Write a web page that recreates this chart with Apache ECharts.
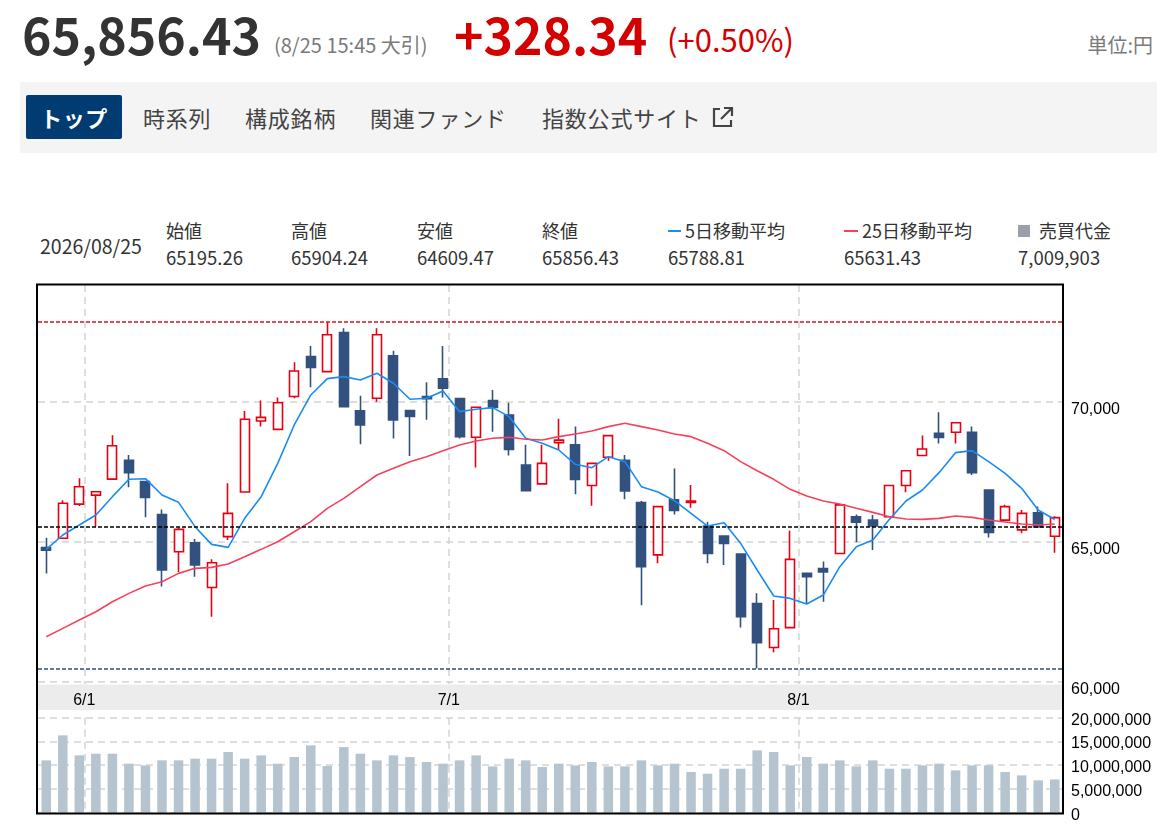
<!DOCTYPE html>
<html lang="ja">
<head>
<meta charset="utf-8">
<script src="https://cdn.jsdelivr.net/npm/echarts@6/dist/echarts.min.js"></script>
<style>
  body { margin: 0; width: 1174px; height: 840px; overflow: hidden; background: #fff; position: relative;
         font-family: "Noto Sans CJK JP", sans-serif; color: #333; }
  .t { position: absolute; white-space: nowrap; line-height: 1; }
  .tabbar { position: absolute; left: 20px; top: 82px; width: 1137px; height: 71px; background: #f4f4f4; }
  .tab { position: absolute; top: 95px; height: 44px; line-height: 44px; font-size: 22px; color: #444; letter-spacing: 0.8px; white-space: nowrap; }
  .tab.on { left: 26px; width: 96px; background: #003b71; color: #fff; font-weight: bold; text-align: center; border-radius: 2px; letter-spacing: 0.5px; }
  .lbl { position: absolute; top: 221px; font-size: 18px; line-height: 1; color: #333; white-space: nowrap; }
  .val { position: absolute; top: 248px; font-size: 18.5px; line-height: 1; color: #333; white-space: nowrap; }
  #main { position: absolute; left: 0; top: 280px; width: 1174px; height: 560px; }
</style>
</head>
<body>
<div class="t" style="left:22px;top:8px;font-size:50px;font-weight:bold;color:#333;">65,856.43</div>
<div class="t" style="left:274px;top:35px;font-size:20px;color:#7a7a7a;">(8/25 15:45 大引)</div>
<div class="t" style="left:454px;top:8px;font-size:50px;font-weight:bold;color:#d40000;">+328.34</div>
<div class="t" style="left:667px;top:23px;font-size:31px;color:#d40000;">(+0.50%)</div>
<div class="t" style="right:21px;top:35px;font-size:20px;color:#7a7a7a;">単位:円</div>

<div class="tabbar"></div>
<div class="tab on">トップ</div>
<div class="tab" style="left:143px;">時系列</div>
<div class="tab" style="left:245px;">構成銘柄</div>
<div class="tab" style="left:370px;">関連ファンド</div>
<div class="tab" style="left:542px;">指数公式サイト</div>
<svg style="position:absolute;left:711px;top:106px;" width="23" height="23" viewBox="0 0 23 23">
  <path d="M9 3H3v17h17v-6" fill="none" stroke="#444" stroke-width="2.2"/>
  <path d="M13 2h8v8M21 2L10 13" fill="none" stroke="#444" stroke-width="2.2"/>
</svg>

<div class="t" style="left:40px;top:236px;font-size:19.5px;">2026/08/25</div>
<div class="lbl" style="left:166px;">始値</div>
<div class="val" style="left:166px;">65195.26</div>
<div class="lbl" style="left:291px;">高値</div>
<div class="val" style="left:291px;">65904.24</div>
<div class="lbl" style="left:417px;">安値</div>
<div class="val" style="left:417px;">64609.47</div>
<div class="lbl" style="left:542px;">終値</div>
<div class="val" style="left:542px;">65856.43</div>
<div style="position:absolute;left:668px;top:230px;width:13px;height:2px;background:#1a8cf0;"></div>
<div class="lbl" style="left:685px;">5日移動平均</div>
<div class="val" style="left:668px;">65788.81</div>
<div style="position:absolute;left:844px;top:230px;width:14px;height:2px;background:#f5415d;"></div>
<div class="lbl" style="left:862px;">25日移動平均</div>
<div class="val" style="left:844px;">65631.43</div>
<div style="position:absolute;left:1018px;top:225px;width:12px;height:12px;background:#9a9fab;"></div>
<div class="lbl" style="left:1039px;">売買代金</div>
<div class="val" style="left:1018px;">7,009,903</div>

<div id="main"></div>
<script>
// 2026/5/28 - 8/25 daily
var dates = ['5/28','5/29','6/1','6/2','6/3','6/4','6/5','6/8','6/9','6/10','6/11','6/12','6/15','6/16','6/17','6/18','6/19',
  '6/22','6/23','6/24','6/25','6/26','6/29','6/30','7/1','7/2','7/3','7/6','7/7','7/8','7/9','7/10','7/13','7/14','7/15',
  '7/16','7/17','7/21','7/22','7/23','7/24','7/27','7/28','7/29','7/30','7/31','8/3','8/4','8/5','8/6','8/7','8/10','8/12',
  '8/13','8/14','8/17','8/18','8/19','8/20','8/21','8/24','8/25'];

var openV = [64790, 65120, 66340, 66660, 67230, 67900, 67140, 65970, 64640, 64960, 63370, 65180, 66770, 69300, 69000, 70170,
  71600, 71060, 72450, 69660, 70110, 71620, 69670, 70170, 70800, 70100, 68720, 70030, 69510, 67730, 67060, 68530, 68450,
  67000, 68010, 67900, 66390, 64530, 66490, 66400, 65560, 65200, 64560, 62800, 61230, 61940, 63870, 64040, 64580, 65890,
  65770, 65890, 67000, 68070, 68860, 68900, 68900, 66840, 65770, 65420, 66030, 65195.26];
var highV = [65140, 66480, 67260, 66800, 68790, 68090, 67160, 66150, 65510, 65100, 64370, 67080, 69660, 70030, 70140, 71390,
  71970, 72820, 72600, 70200, 72600, 71800, 69680, 70680, 71970, 70110, 69800, 70400, 69950, 68450, 68450, 69380, 69100,
  67800, 68780, 68090, 66450, 66250, 67610, 67020, 65710, 65210, 64570, 63160, 62920, 65390, 63890, 64290, 66310, 65970,
  65950, 67000, 67530, 68780, 69610, 69250, 69100, 66870, 66320, 66130, 66250, 65904.24];
var lowV = [63870, 65100, 66270, 65530, 67200, 66940, 65870, 63400, 63920, 63750, 62330, 65060, 66750, 69100, 68990, 70110,
  70500, 71040, 69810, 68470, 69990, 68680, 68050, 69340, 70140, 68680, 67640, 68920, 68070, 66820, 67050, 68270, 66690,
  66280, 67880, 66510, 62740, 64230, 65970, 66210, 64230, 64170, 61940, 60480, 61060, 61930, 62800, 62860, 64570, 64980,
  64700, 65880, 66760, 68060, 68500, 68500, 67380, 65150, 65760, 65300, 65530, 64609.47];
var closeV = [64700, 66370, 66960, 66780, 68420, 67460, 66580, 63990, 65440, 64170, 64250, 66010, 69360, 69430, 69950, 71080,
  71210, 72370, 69810, 69160, 72370, 69340, 69460, 70090, 70470, 68740, 69790, 69780, 68290, 66820, 67790, 68620, 67220,
  67790, 68780, 66810, 64110, 66250, 66110, 66450, 64580, 64940, 62330, 61400, 61900, 64370, 63750, 63920, 66310, 65690,
  65560, 67000, 67530, 68300, 68710, 69240, 67460, 65330, 66250, 66010, 65528.09, 65856.43];

var ma5 = [64727, 65238, 65594, 65950, 66604, 67222, 67245, 66663, 66402, 65535, 64905, 64798, 65832, 66604, 67792, 69158,
  70227, 70809, 70881, 70762, 70999, 70643, 70073, 70108, 70370, 69633, 69716, 69776, 69455, 68683, 68505, 68267, 67756,
  67637, 68029, 67851, 66960, 66770, 66461, 66010, 65558, 65677, 64941, 63990, 63064, 62980, 62779, 63099, 64109, 64822,
  65059, 65796, 66449, 66841, 67459, 68172, 68243, 67851, 67435, 66901, 66129, 65788.81];
var ma25 = [61614, 61911, 62208, 62505, 62862, 63159, 63420, 63574, 63871, 64050, 64085, 64204, 64465, 64727, 65000, 65356,
  65713, 66188, 66544, 66960, 67376, 67614, 67851, 68029, 68243, 68445, 68588, 68683, 68718, 68647, 68623, 68742, 68837,
  68944, 69099, 69217, 69099, 68980, 68837, 68742, 68505, 68243, 67851, 67530, 67222, 66865, 66628, 66449, 66342, 66188,
  66045, 65891, 65808, 65796, 65832, 65915, 65867, 65772, 65701, 65630, 65594, 65631.43];

var volume = [11020000, 16280000, 12070000, 12420000, 12420000, 10320000, 9960000, 11020000, 11020000, 11370000, 11370000,
  12770000, 11370000, 12070000, 10320000, 11720000, 14180000, 9820000, 13820000, 12420000, 11020000, 12070000, 11720000,
  10670000, 10320000, 11020000, 12070000, 9750000, 11370000, 11020000, 9610000, 10320000, 9960000, 10670000, 9750000,
  9750000, 11020000, 9960000, 10320000, 8560000, 8210000, 9260000, 9260000, 13120000, 12770000, 9960000, 11720000,
  10320000, 11020000, 9750000, 11020000, 9260000, 9260000, 9960000, 10320000, 8910000, 9960000, 9960000, 8560000,
  7860000, 6810000, 7009903];

var priceTicks = [60000, 65000, 70000];
var priceMin = 59930, priceMax = 74145;
var volMax = 20000000, volStep = 5000000;
var monthLinePos = [2.3, 24.35, 45.5];
var monthLabels = ['6/1', '7/1', '8/1'];

var upColor = '#e50012', downColor = '#33517f';
var axisFont = 'Liberation Sans, Arial, sans-serif';
var gridDash = { color: '#d3d3d3', type: [7, 5], width: 1.5 };

function comma(v) { return Number(v).toLocaleString('en-US'); }
function monthLabel(v) {
  for (var i = 0; i < monthLinePos.length; i++) {
    if (Math.abs(monthLinePos[i] - v) < 0.01) return monthLabels[i];
  }
  return '';
}

var candles = dates.map(function (d, i) { return [openV[i], closeV[i], lowV[i], highV[i]]; });
var prevClose = closeV[closeV.length - 2];

var chart = echarts.init(document.getElementById('main'));
var hidden = { show: false };

chart.setOption({
  animation: false,
  grid: [
    { left: 38, right: 111, top: 5, height: 399 },
    { left: 38, right: 111, top: 437.7, height: 95 }
  ],
  xAxis: [
    { type: 'category', gridIndex: 0, data: dates, boundaryGap: true, show: false },
    { type: 'category', gridIndex: 1, data: dates, boundaryGap: true, show: false },
    {
      type: 'value', gridIndex: 0, position: 'bottom', min: -0.5, max: dates.length - 0.5,
      axisLine: hidden, axisTick: { show: false, customValues: monthLinePos },
      axisLabel: { customValues: monthLinePos, formatter: monthLabel, margin: 9, fontSize: 16, color: '#000', fontFamily: axisFont },
      splitLine: { show: true, lineStyle: gridDash }
    },
    {
      type: 'value', gridIndex: 1, position: 'bottom', min: -0.5, max: dates.length - 0.5,
      axisLine: hidden, axisTick: { show: false, customValues: monthLinePos },
      axisLabel: hidden,
      splitLine: { show: true, lineStyle: gridDash }
    }
  ],
  yAxis: [
    {
      type: 'value', gridIndex: 0, position: 'right', min: priceMin, max: priceMax,
      axisLine: hidden, axisTick: { show: false, customValues: priceTicks },
      axisLabel: { customValues: priceTicks, formatter: comma, margin: 8, fontSize: 16, color: '#000',
        fontFamily: axisFont, verticalAlign: 'top', padding: [0, 0, 0, 0] },
      splitLine: { show: true, lineStyle: gridDash }
    },
    {
      type: 'value', gridIndex: 1, position: 'right', min: 0, max: volMax, interval: volStep,
      axisLine: hidden, axisTick: hidden,
      axisLabel: { formatter: comma, margin: 8, fontSize: 16, color: '#000', fontFamily: axisFont,
        verticalAlign: 'top', lineHeight: 5 },
      splitLine: { show: true, lineStyle: gridDash }
    }
  ],
  graphic: [
    { type: 'rect', z: -10, shape: { x: 38, y: 404.5, width: 1024, height: 25.5 }, style: { fill: '#ececec' } },
    { type: 'rect', z: 100, shape: { x: 37, y: 4.5, width: 1026, height: 529 },
      style: { fill: 'none', stroke: '#000', lineWidth: 2 }, silent: true }
  ],
  series: [
    {
      name: '日足', type: 'candlestick', xAxisIndex: 0, yAxisIndex: 0, data: candles, barWidth: 9.5,
      itemStyle: { color: '#fff', color0: downColor, borderColor: upColor, borderColor0: downColor, borderWidth: 1.6 },
      markLine: {
        silent: true, symbol: ['none', 'none'], label: { show: false },
        data: [
          { type: 'max', valueDim: 'highest', lineStyle: { color: '#e0101c', type: [4, 2], width: 1.6 } },
          { type: 'min', valueDim: 'lowest', lineStyle: { color: '#2e4f80', type: [4, 2], width: 1.6 } },
          { yAxis: prevClose, lineStyle: { color: '#000', type: [4, 2], width: 1.5 } }
        ]
      }
    },
    {
      name: '5日移動平均', type: 'line', xAxisIndex: 0, yAxisIndex: 0, data: ma5, symbol: 'none',
      lineStyle: { color: '#1a8cf0', width: 1.6 }, z: 3
    },
    {
      name: '25日移動平均', type: 'line', xAxisIndex: 0, yAxisIndex: 0, data: ma25, symbol: 'none',
      lineStyle: { color: '#f5415d', width: 1.6 }, z: 3
    },
    {
      name: '売買代金', type: 'bar', xAxisIndex: 1, yAxisIndex: 1, data: volume, barWidth: 9.5,
      itemStyle: { color: '#b5c4ce' }
    }
  ]
});
</script>
</body>
</html>
